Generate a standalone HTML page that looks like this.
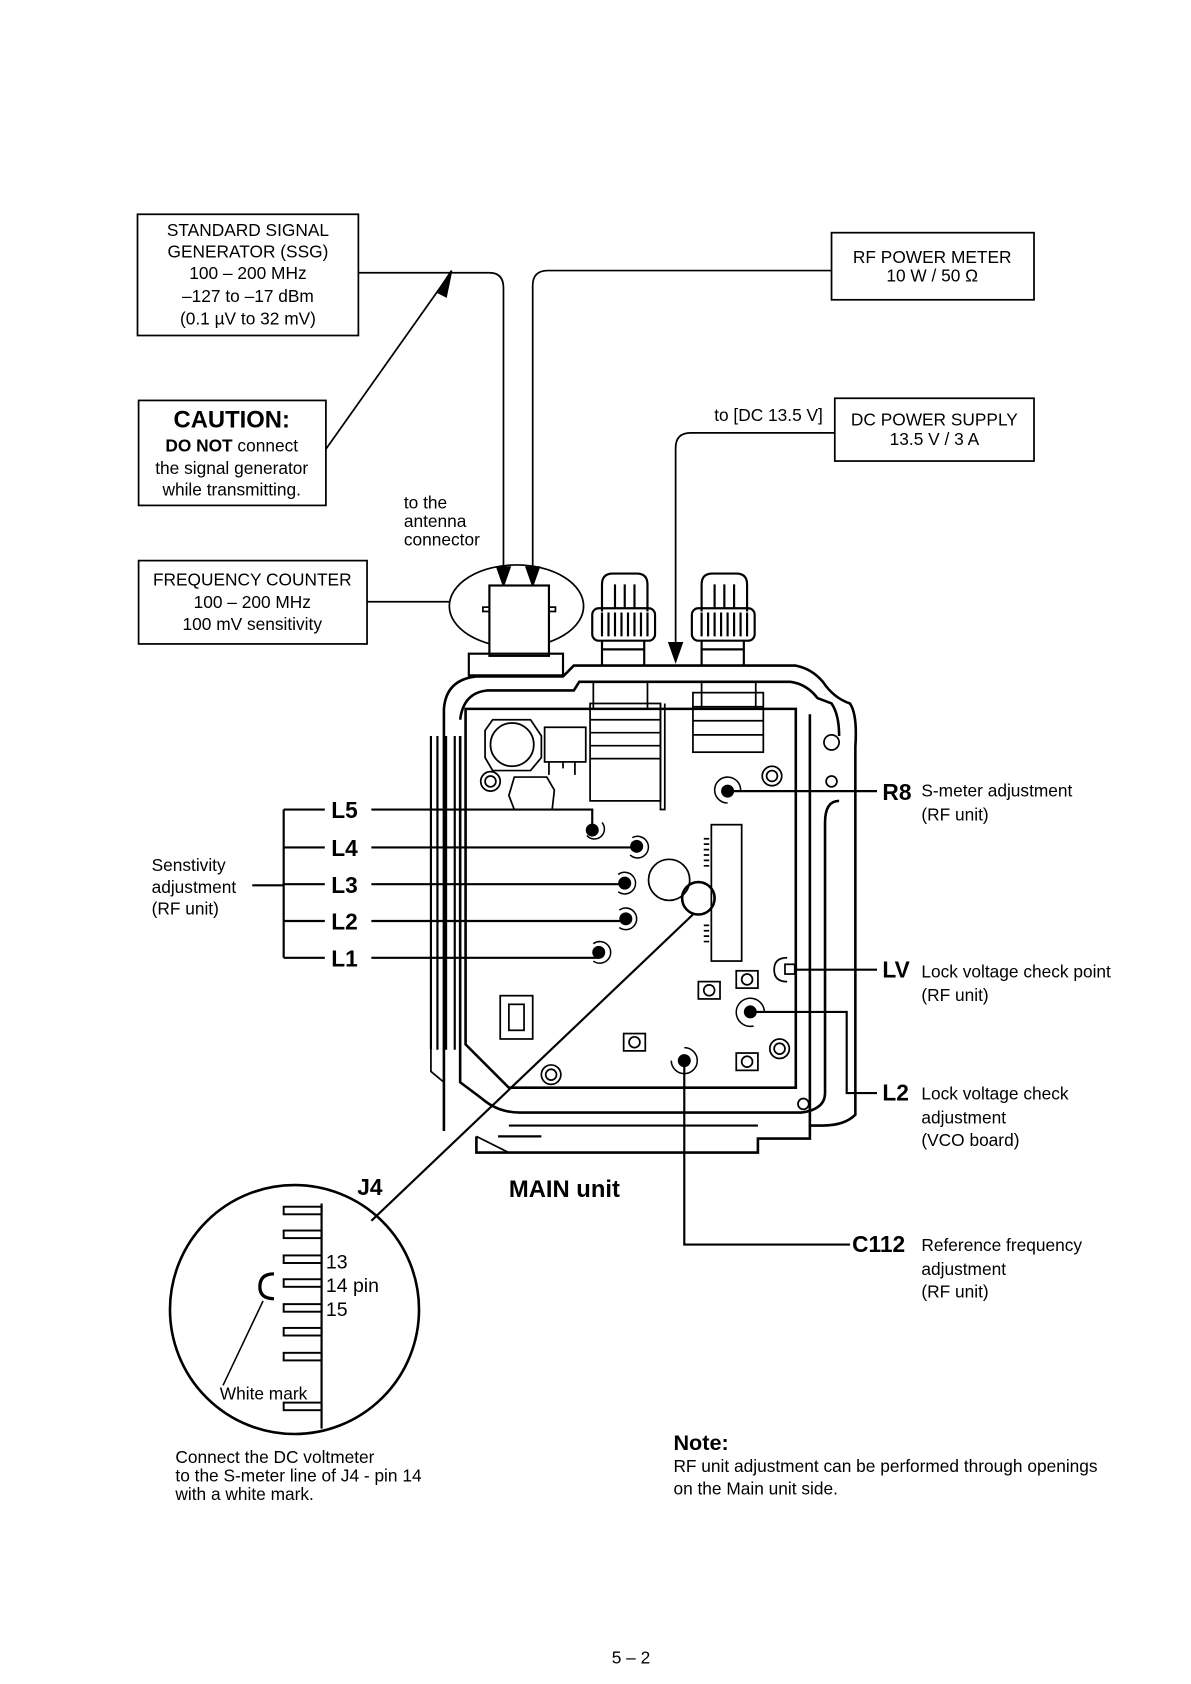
<!DOCTYPE html>
<html><head><meta charset="utf-8"><style>
html,body{margin:0;padding:0;background:#fff;}
svg{display:block;}
text{font-family:"Liberation Sans",Arial,sans-serif;fill:#000;}
</style></head><body>
<svg width="1191" height="1684" viewBox="0 0 1100 1556" preserveAspectRatio="none" xmlns="http://www.w3.org/2000/svg">
<g fill="none" stroke="#000" stroke-width="1.6">
<!-- boxes -->
<rect x="127" y="198" width="204" height="112"/>
<rect x="128" y="370" width="173" height="97"/>
<rect x="128" y="518" width="211" height="77"/>
<rect x="768" y="215" width="187" height="62"/>
<rect x="771" y="368" width="184" height="58"/>
<!-- connectors -->
<path d="M331,252 L452,252 Q465,252 465,266 L465,528"/>
<path d="M768,250 L506,250 Q492,250 492,264 L492,528"/>
<path d="M301,415 L412,258"/>
<path d="M404,270 L417,250 L412,274 Z" fill="#000"/>
<path d="M771,400 L638,400 Q624,400 624,414 L624,598"/>
<path d="M459,524 L471,524 L465,541 Z M486,524 L498,524 L492,541 Z M618,594 L630,594 L624,611 Z" fill="#000"/>
<path d="M339,556 L415,556"/>
<ellipse cx="477" cy="560" rx="62" ry="38"/>
<!-- antenna connector -->
<rect x="452" y="541" width="55" height="65" fill="#fff" stroke-width="2"/>
<rect x="446" y="561" width="6" height="4"/><rect x="507" y="561" width="6" height="4"/>
<rect x="433" y="604" width="87" height="20" stroke-width="2"/>
<!-- knobs -->
<g stroke-width="2">
<path d="M556,565 L556,540 Q556,530 566,530 L588,530 Q598,530 598,540 L598,565"/>
<path d="M568,540 V562 M577,540 V562 M586,540 V562"/>
<rect x="547" y="562" width="58" height="30" rx="6"/>
<path d="M556,566 V588 M562,566 V588 M568,566 V588 M574,566 V588 M580,566 V588 M586,566 V588 M592,566 V588 M598,566 V588"/>
<path d="M556,592 V615 M595,592 V615 M556,600 H595"/>
<path d="M648,565 L648,540 Q648,530 658,530 L680,530 Q690,530 690,540 L690,565"/>
<path d="M660,540 V562 M669,540 V562 M678,540 V562"/>
<rect x="639" y="562" width="58" height="30" rx="6"/>
<path d="M648,566 V588 M654,566 V588 M660,566 V588 M666,566 V588 M672,566 V588 M678,566 V588 M684,566 V588 M690,566 V588"/>
<path d="M648,592 V615 M687,592 V615 M648,600 H687"/>
</g>
<!-- radio body outline -->
<g stroke-width="2.4">
<path d="M410,1045 L410,655 Q412,628 440,625 L520,625 L530,615 L735,615 Q750,618 760,630 Q770,645 785,650 Q792,660 790,690 L790,1030 Q780,1040 760,1040 L748,1040 L748,1052 L700,1052 L700,1065 L440,1065 L440,1050"/>
<path d="M425,665 Q428,640 450,638 L530,638 L535,630 L730,630 Q745,632 755,645 L768,650 Q775,660 775,680"/>
<path d="M775,740 Q762,740 762,760 L762,1010 Q762,1025 740,1028 L480,1028 Q460,1028 445,1015 L425,1000 L425,680"/>
<path d="M430,655 L735,655 L735,1005 L470,1005 L430,965 Z"/>
<path d="M748,660 L748,1040"/>
</g>
<path d="M398,680 V970 M404,680 V970 M412,680 V970 M420,680 V970" stroke-width="2"/>
<path d="M398,970 L398,990 L410,1000 M440,1050 L470,1065"/>
<path d="M470,1040 L700,1040 M460,1050 L500,1050" stroke-width="2"/>
<!-- board internals -->
<g stroke-width="1.6">
<path d="M455,665 L490,665 L500,680 L500,700 L490,712 L455,712 L448,700 L448,675 Z"/><circle cx="473" cy="688" r="20"/>
<rect x="503" y="672" width="38" height="32"/><path d="M507,704 V716 M531,704 V716 M520,704 V710"/>
<path d="M475,718 L505,718 L512,730 L510,748 L475,748 L470,735 Z"/>
<circle cx="453" cy="722" r="9"/><circle cx="453" cy="722" r="5"/>
<rect x="545" y="650" width="65" height="90"/><path d="M545,665 H610 M545,677 H610 M545,689 H610 M545,701 H610 M610,650 V748 H614 V650"/>
<rect x="640" y="640" width="65" height="55"/><path d="M640,653 H705 M640,666 H705 M640,679 H705"/>
<rect x="548" y="630" width="50" height="25"/><rect x="648" y="630" width="50" height="25"/>
<circle cx="713" cy="717" r="9"/><circle cx="713" cy="717" r="5"/>
<circle cx="768" cy="686" r="7"/><circle cx="768" cy="722" r="5"/>
<rect x="657" y="762" width="28" height="126"/><path d="M655,775 H650 M655,780 H650 M655,785 H650 M655,790 H650 M655,795 H650 M655,800 H650 M655,855 H650 M655,860 H650 M655,865 H650 M655,870 H650"/>
<circle cx="618" cy="813" r="19"/>
<circle cx="645" cy="830" r="15" stroke-width="2.4"/>
<rect x="462" y="920" width="30" height="40"/><rect x="470" y="928" width="14" height="24"/>
<rect x="576" y="955" width="20" height="16"/><circle cx="586" cy="963" r="5"/>
<rect x="645" y="907" width="20" height="16"/><circle cx="655" cy="915" r="5"/>
<rect x="680" y="897" width="20" height="16"/><circle cx="690" cy="905" r="5"/>
<rect x="680" y="973" width="20" height="16"/><circle cx="690" cy="981" r="5"/>
<circle cx="509" cy="993" r="9"/><circle cx="509" cy="993" r="5"/>
<circle cx="720" cy="969" r="9"/><circle cx="720" cy="969" r="5"/>
<circle cx="742" cy="1020" r="5"/>
<path d="M727,885 Q715,885 715,896 Q715,907 727,907"/><rect x="725" y="891" width="9" height="9"/>
</g>
<!-- callouts left -->
<g stroke-width="2">
<path d="M262,748 V885 M262,748 H300 M262,783 H300 M262,817 H300 M262,851 H300 M262,885 H300 M233,818 H262"/>
<path d="M343,748 H547 V765 M343,783 H588 M343,817 H577 M343,851 H578 M343,885 H553"/>
<path d="M640,845 L343,1128"/>
<path d="M672,731 H810 M734,896 H810 M693,935 H782 V1010 H810 M632,980 V1150 H785"/>
</g>
<g fill="#000" stroke="none">
<circle cx="547" cy="767" r="6"/><circle cx="588" cy="782" r="6"/><circle cx="577" cy="816" r="6"/><circle cx="578" cy="849" r="6"/><circle cx="553" cy="880" r="6"/>
<circle cx="672" cy="731" r="6"/><circle cx="693" cy="935" r="6"/><circle cx="632" cy="980" r="6"/>
</g>
<g stroke-width="1.4">
<path d="M542,772 A9,9 0 1 0 556,760"/><path d="M582,790 A10,10 0 1 0 584,774"/><path d="M571,824 A10,10 0 1 0 571,808"/><path d="M572,857 A10,10 0 1 0 572,841"/><path d="M548,888 A10,10 0 1 0 548,872"/>
<path d="M672,742 A12,12 0 1 1 684,731"/><path d="M696,948 A13,13 0 1 1 706,935"/><path d="M632,968 A12,12 0 1 1 620,980"/>
</g>
<!-- magnified J4 -->
<circle cx="272" cy="1210" r="115" stroke-width="2.4"/>
<path d="M297,1112 V1320" stroke-width="2"/>
<g stroke-width="1.8">
<rect x="262" y="1115" width="35" height="7"/><rect x="262" y="1137" width="35" height="7"/><rect x="262" y="1160" width="35" height="7"/><rect x="262" y="1182" width="35" height="7"/><rect x="262" y="1205" width="35" height="7"/><rect x="262" y="1227" width="35" height="7"/><rect x="262" y="1250" width="35" height="7"/><rect x="262" y="1296" width="35" height="7"/>
</g>
<path d="M253,1177 Q240,1177 240,1189 Q240,1200 253,1200" stroke-width="3"/>
<path d="M243,1202 L206,1280" stroke-width="1.4"/>
</g>
<!-- texts -->
<g font-size="16" text-anchor="middle">
<text x="229" y="218">STANDARD SIGNAL</text>
<text x="229" y="238">GENERATOR (SSG)</text>
<text x="229" y="258">100 – 200 MHz</text>
<text x="229" y="279">–127 to –17 dBm</text>
<text x="229" y="300">(0.1 µV to 32 mV)</text>
<text x="214" y="395" font-size="22" font-weight="bold">CAUTION:</text>
<text x="214" y="417"><tspan font-weight="bold">DO NOT</tspan> connect</text>
<text x="214" y="438">the signal generator</text>
<text x="214" y="458">while transmitting.</text>
<text x="233" y="541">FREQUENCY COUNTER</text>
<text x="233" y="562">100 – 200 MHz</text>
<text x="233" y="582">100 mV sensitivity</text>
<text x="861" y="243">RF POWER METER</text>
<text x="861" y="260">10 W / 50 Ω</text>
<text x="863" y="393">DC POWER SUPPLY</text>
<text x="863" y="411">13.5 V / 3 A</text>
</g>
<g font-size="16">
<text x="760" y="389" text-anchor="end">to [DC 13.5 V]</text>
<text x="373" y="470">to the</text><text x="373" y="487">antenna</text><text x="373" y="504">connector</text>
<text x="140" y="805">Senstivity</text><text x="140" y="825">adjustment</text><text x="140" y="845">(RF unit)</text>
<g font-size="21" font-weight="bold"><text x="306" y="756">L5</text><text x="306" y="791">L4</text><text x="306" y="825">L3</text><text x="306" y="859">L2</text><text x="306" y="893">L1</text>
<text x="815" y="739">R8</text><text x="815" y="903">LV</text><text x="815" y="1017">L2</text><text x="787" y="1157">C112</text>
<text x="330" y="1104">J4</text><text x="470" y="1106" font-size="22">MAIN unit</text></g>
<text x="851" y="736">S-meter adjustment</text><text x="851" y="758">(RF unit)</text>
<text x="851" y="903">Lock voltage check point</text><text x="851" y="925">(RF unit)</text>
<text x="851" y="1016">Lock voltage check</text><text x="851" y="1038">adjustment</text><text x="851" y="1059">(VCO board)</text>
<text x="851" y="1156">Reference frequency</text><text x="851" y="1178">adjustment</text><text x="851" y="1199">(RF unit)</text>
<text x="301" y="1172" font-size="18">13</text><text x="301" y="1194" font-size="18">14 pin</text><text x="301" y="1216" font-size="18">15</text>
<text x="203" y="1293">White mark</text>
<text x="162" y="1352">Connect the DC voltmeter</text><text x="162" y="1369">to the S-meter line of J4 - pin 14</text><text x="162" y="1386">with a white mark.</text>
<text x="622" y="1340" font-size="20" font-weight="bold">Note:</text>
<text x="622" y="1360">RF unit adjustment can be performed through openings</text>
<text x="622" y="1381">on the Main unit side.</text>
<text x="565" y="1537">5 – 2</text>
</g>
</svg>
</body></html>
